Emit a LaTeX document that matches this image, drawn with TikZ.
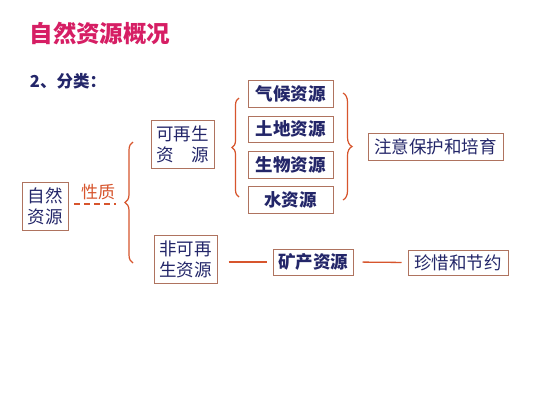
\documentclass[tikz,border=0pt]{standalone}
\usepackage{fontspec}
\newfontfamily\cjk{Noto Sans CJK SC}
\usetikzlibrary{decorations.pathreplacing}
\definecolor{titlec}{RGB}{214,30,100}
\definecolor{navy}{RGB}{35,38,105}
\definecolor{boxc}{RGB}{175,115,95}
\definecolor{linec}{RGB}{215,85,45}
\begin{document}
\begin{tikzpicture}[x=1pt,y=-1pt,
  box/.style={draw=boxc, line width=1pt, text=navy, inner sep=0pt,
    font=\cjk\fontsize{17.5}{21}\selectfont, align=center},
  boldbox/.style={box, font=\cjk\bfseries\fontsize{17.5}{21}\selectfont},
  conn/.style={draw=linec, line width=1.3pt},
  bracestyle/.style={draw=linec, line width=1.2pt, decorate}]
\useasboundingbox[fill=white] (0,0) rectangle (533,400);
% title
\node[text=titlec, font=\cjk\bfseries\fontsize{23.5}{26}\selectfont] (title) at (100,33) {自然资源概况};
\node[text=navy, font=\cjk\bfseries\fontsize{16.5}{19}\selectfont] (fenlei) at (68,81) {2、分类：};
% boxes
\node[boldbox, minimum width=85pt, minimum height=27pt] (qihou) at (290.5,93.5) {气候资源};
\node[boldbox, minimum width=85pt, minimum height=26pt] (tudi) at (290.5,129) {土地资源};
\node[boldbox, minimum width=85pt, minimum height=27pt] (shengwu) at (290.5,164.5) {生物资源};
\node[boldbox, minimum width=85pt, minimum height=27pt] (shui) at (290.5,199.5) {水资源};
\node[box, minimum width=135pt, minimum height=27pt] (zhuyi) at (435.5,146.5) {注意保护和培育};
\node[box, minimum width=63pt, minimum height=48pt] (kezai) at (182.5,144) {可再生\\资\hspace{1em}源};
\node[box, minimum width=46pt, minimum height=48pt] (ziran) at (45,206) {自然\\资源};
\node[box, minimum width=63pt, minimum height=48pt] (feike) at (185.5,259) {非可再\\生资源};
\node[boldbox, minimum width=80pt, minimum height=26pt] (kuang) at (313,262) {矿产资源};
\node[box, minimum width=100pt, minimum height=25pt] (zhenxi) at (458,262.5) {珍惜和节约};
% label
\node[text=linec, font=\cjk\fontsize{17}{19}\selectfont] (xingzhi) at (98,192) {性质};
% dashed connector
\coordinate (d1) at (74,204);
\coordinate (d2) at (116,204);
\draw[conn, dash pattern=on 6pt off 4pt] (d1) -- (d2);
% braces
\coordinate (b1t) at (133,142);
\coordinate (b1b) at (133,263);
\draw[bracestyle, decoration={brace, amplitude=8pt}] (b1b) -- (b1t);
\coordinate (b2t) at (239,98);
\coordinate (b2b) at (239,197);
\draw[bracestyle, decoration={brace, amplitude=7pt}] (b2b) -- (b2t);
\coordinate (b3t) at (343,93);
\coordinate (b3b) at (343,200);
\draw[bracestyle, decoration={brace, amplitude=9pt}] (b3t) -- (b3b);
% lines
\draw[conn, shorten <=11pt, shorten >=6pt] (feike.east |- kuang.west) -- (kuang.west);
\draw[conn, shorten <=9pt, shorten >=6pt] (kuang.east) -- (zhenxi.west);
\end{tikzpicture}
\end{document}
